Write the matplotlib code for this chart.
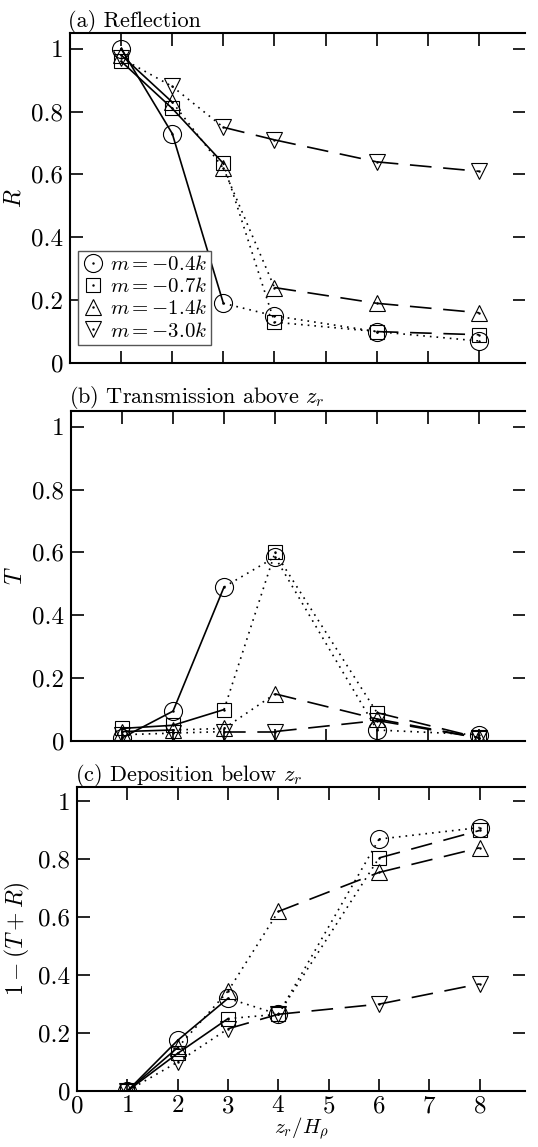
import matplotlib
matplotlib.use("Agg")
import matplotlib.pyplot as plt
from matplotlib.lines import Line2D
from matplotlib.ticker import FuncFormatter, FixedLocator

plt.rcParams.update({
    "font.family": "serif",
    "font.serif": ["cmr10", "DejaVu Serif"],
    "mathtext.fontset": "cm",
    "axes.unicode_minus": False,
    "axes.formatter.use_mathtext": True,
    "font.size": 16,
})

# Vertical position of the rising layer, in density scale heights
zr = [1, 2, 3, 4, 6, 8]

labels = [r"$m=-0.4k$", r"$m=-0.7k$", r"$m=-1.4k$", r"$m=-3.0k$"]

# (a) reflection coefficient
R_m04 = [1.00, 0.73, 0.19, 0.15, 0.10, 0.07]
R_m07 = [0.96, 0.81, 0.635, 0.13, 0.10, 0.09]
R_m14 = [0.98, 0.83, 0.62, 0.24, 0.19, 0.16]
R_m30 = [0.97, 0.88, 0.75, 0.71, 0.64, 0.61]

# (b) transmission above z_r
T_m04 = [0.01, 0.095, 0.49, 0.585, 0.035, 0.02]
T_m07 = [0.04, 0.05, 0.10, 0.60, 0.09, 0.01]
T_m14 = [0.03, 0.035, 0.04, 0.15, 0.07, 0.01]
T_m30 = [0.02, 0.025, 0.03, 0.03, 0.065, 0.01]

# (c) deposition below z_r
D_m04 = [0.00, 0.175, 0.32, 0.265, 0.87, 0.91]
D_m07 = [0.00, 0.13, 0.25, 0.265, 0.805, 0.90]
D_m14 = [0.00, 0.15, 0.345, 0.62, 0.755, 0.84]
D_m30 = [0.00, 0.10, 0.215, 0.265, 0.30, 0.37]

# Line style of each segment between consecutive z_r (regime of the run)
SOLID, DOT, DASH = "-", (0, (1, 3)), (0, (13, 7))
seg_styles = [
    [SOLID, SOLID, DOT, DOT, DOT],
    [SOLID, SOLID, DOT, DOT, DASH],
    [SOLID, DOT, DOT, DASH, DASH],
    [DOT, DOT, DASH, DASH, DASH],
]

markers = ["o", "s", "^", "v"]
msizes = [13, 9.5, 11.5, 11.5]

panels = [
    ("(a) Reflection", r"$R$", [R_m04, R_m07, R_m14, R_m30]),
    (r"(b) Transmission above $z_r$", r"$T$", [T_m04, T_m07, T_m14, T_m30]),
    (r"(c) Deposition below $z_r$", r"$1-(T+R)$", [D_m04, D_m07, D_m14, D_m30]),
]

W, H = 538, 1147
fig = plt.figure(figsize=(W / 100, H / 100), dpi=100)

# axes boxes in pixels: left, right, bottom, top (from top of figure)
boxes = [(70, 525, 363, 33), (71, 525, 741, 411), (77, 525, 1091, 787)]

fmt = FuncFormatter(lambda v, p: "%g" % v)

for i, ((title, ylab, series), (l, r, b, t)) in enumerate(zip(panels, boxes)):
    ax = fig.add_axes([l / W, 1 - b / H, (r - l) / W, (b - t) / H])
    for vals, mk, ms, styles in zip(series, markers, msizes, seg_styles):
        for k in range(len(zr) - 1):
            ax.plot(zr[k:k + 2], vals[k:k + 2], color="black", lw=1.2,
                    linestyle=styles[k], zorder=2)
        ax.plot(zr, vals, linestyle="none", marker=mk, ms=ms,
                mfc="none", mec="black", mew=0.8, zorder=3)
        ax.plot(zr, vals, linestyle="none", marker=".", ms=1.5,
                color="black", zorder=4)
    ax.set_xlim(0, 8.9)
    ax.set_ylim(0, 1.05)
    ax.xaxis.set_major_locator(FixedLocator(range(0, 9)))
    ax.yaxis.set_major_locator(FixedLocator([0, 0.2, 0.4, 0.6, 0.8, 1.0]))
    ax.yaxis.set_major_formatter(fmt)
    ax.tick_params(direction="in", length=9, width=1.2, top=True, right=True,
                   labelsize=18, pad=5)
    for s in ["left", "bottom", "top"]:
        ax.spines[s].set_linewidth(1.5)
    ax.spines["right"].set_visible(False)
    ax.set_ylabel(ylab, fontsize=17, labelpad=4)
    ax.set_title(title, loc="left", fontsize=16, pad=4, x=-0.005)
    if i < 2:
        ax.tick_params(labelbottom=False)
    else:
        ax.tick_params(axis="x", pad=3)
        ax.set_xlabel(r"$z_r/H_\rho$", fontsize=15, labelpad=-1)
    if i == 0:
        handles = []
        for mk, ms in zip(markers, msizes):
            h1 = Line2D([], [], linestyle="none", marker=mk, ms=ms,
                        mfc="none", mec="black", mew=0.8)
            h2 = Line2D([], [], linestyle="none", marker=".", ms=1.5,
                        color="black")
            handles.append((h1, h2))
        leg = ax.legend(handles, labels, loc="lower left", fontsize=15,
                        handlelength=1.0, handletextpad=0.3,
                        labelspacing=0.15, borderpad=0.2,
                        borderaxespad=0.4, fancybox=False, framealpha=1,
                        bbox_to_anchor=(0.0, 0.03))
        leg.get_frame().set_edgecolor("#555555")
        leg.get_frame().set_linewidth(1.0)

fig.savefig("out.png", dpi=100)
